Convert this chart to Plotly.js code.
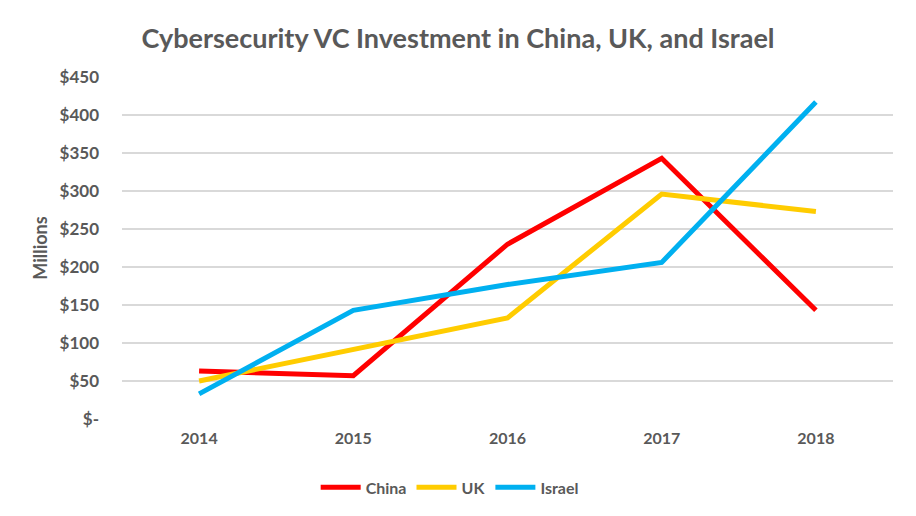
<!DOCTYPE html>
<html><head><meta charset="utf-8">
<script src="https://cdn.plot.ly/plotly-3.0.1.min.js"></script>
<style>html,body{margin:0;padding:0;background:#fff}#c{width:916px;height:516px}</style>
</head><body><div id="c"></div>
<script>
const years = ['2014','2015','2016','2017','2018'];
const china = [63, 57, 230, 343, 143];
const uk = [50, 92, 133, 296, 273];
const israel = [33, 143, 177, 206, 417];
const tickVals = [0,50,100,150,200,250,300,350,400,450];
const tickText = ['$-','$50','$100','$150','$200','$250','$300','$350','$400','$450'];
const seriesNames = ['China','UK','Israel'];
const colors = ['#FF0000','#FFCC00','#00B0F0'];
const font = 'Lato, "Open Sans", sans-serif';
const grey = '#595959';
const data = [china, uk, israel].map((v,i)=>({
  x: years, y: v, type:'scatter', mode:'lines', name: seriesNames[i],
  line:{color:colors[i], width:5}
}));
const layout = {
  width:916, height:516,
  margin:{l:122, r:23, t:77, b:97},
  paper_bgcolor:'#fff', plot_bgcolor:'#fff',
  font:{family:font, color:grey},
  title:{text:'Cybersecurity VC Investment in China, UK, and Israel', x:0.5, xanchor:'center', y:0.925, yanchor:'middle',
    font:{family:font, size:27, color:grey, weight:'bold'}},
  xaxis:{type:'category', range:[-0.5,4.5], showgrid:false, zeroline:false, showline:false, ticks:'',
    tickfont:{size:16, color:grey, family:font, weight:'bold'}, ticklabelstandoff:8},
  yaxis:{range:[0,450], tickvals:tickVals, ticktext:tickText, showgrid:true, gridcolor:'#D9D9D9', gridwidth:1.5,
    zeroline:false, showline:false, ticks:'', ticklabelstandoff:22,
    tickfont:{size:17, color:grey, family:font, weight:'bold'},
    title:{text:'Millions', font:{size:18, color:grey, family:font, weight:'bold'}, standoff:7}},
  legend:{orientation:'h', x:0.425, xanchor:'center', y:-0.2, yanchor:'middle',
    font:{size:16, color:grey, family:font, weight:'bold'}, itemwidth:40},
  showlegend:true
};
Plotly.newPlot('c', data, layout, {displayModeBar:false, staticPlot:true});
</script></body></html>
